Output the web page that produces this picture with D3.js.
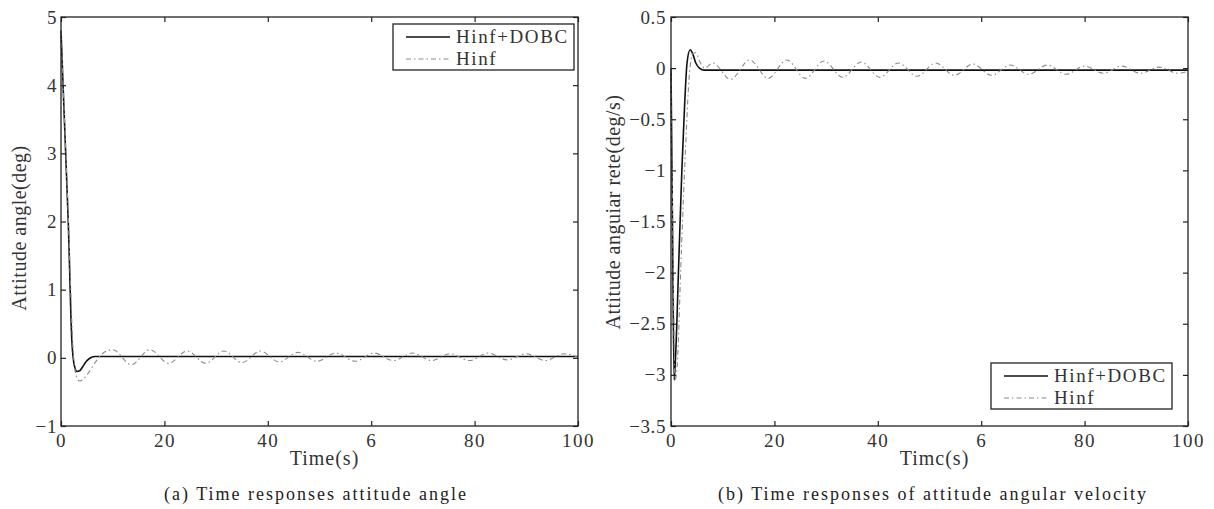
<!DOCTYPE html>
<html>
<head>
<meta charset="utf-8">
<script src="https://cdn.jsdelivr.net/npm/d3@7"></script>
<style>
  body { margin: 0; background: #fff; }
  svg { display: block; font-family: 'Liberation Serif', 'Times New Roman', serif; }
</style>
</head>
<body>
<div id="svg-container"></div>
<script>
// tijd-as (gedeeld door beide panelen), labels zoals in de figuur (met "6")
const timeTicks = [0, 20, 40, 60, 80, 100]
const timeTickLabels = ['0', '20', '40', '6', '80', '100']

// paneel (a): attitude angle
const angleTicks = [5, 4, 3, 2, 1, 0, -1]
const angleTickLabels = ['5', '4', '3', '2', '1', '0', '\u22121']
const angleDobcT = [0, 0.7, 1.4, 2.1, 2.6, 3.1, 3.6, 4.2, 4.8, 5.5, 6.5, 8, 100]
const angleDobcV = [4.8, 3.4, 2.0, 0.25, -0.12, -0.2, -0.19, -0.13, -0.06, -0.01, 0.02, 0.02, 0.02]
const angleHinfT = [0, 1.4, 2.4, 3.1, 3.6, 4.5, 5.5, 6.5, 8, 10, 13.6, 17.2, 20.8, 24.4, 28, 31.5, 35, 38.6, 42.2, 45.8, 49.5, 53.2, 56.9, 60.6, 64.3, 68, 71.7, 75.3, 79, 82.6, 86.3, 90, 93.7, 97.3, 100]
const angleHinfV = [4.8, 2.1, 0.05, -0.3, -0.34, -0.3, -0.2, -0.08, 0.06, 0.12, -0.1, 0.12, -0.08, 0.1, -0.08, 0.1, -0.07, 0.1, -0.06, 0.08, -0.05, 0.07, -0.05, 0.07, -0.04, 0.07, -0.04, 0.06, -0.04, 0.07, -0.03, 0.06, -0.04, 0.06, 0.01]

// paneel (b): attitude angular velocity
const rateTicks = [0.5, 0, -0.5, -1, -1.5, -2, -2.5, -3, -3.5]
const rateTickLabels = ['0.5', '0', '\u22120.5', '\u22121', '\u22121.5', '\u22122', '\u22122.5', '\u22123', '\u22123.5']
const rateDobcT = [0, 0.3, 0.6, 0.9, 1.5, 2.1, 2.6, 3.1, 3.7, 4.2, 4.8, 5.5, 6.5, 8, 100]
const rateDobcV = [0, -1.6, -3.05, -2.8, -1.9, -1.0, -0.4, 0.05, 0.18, 0.14, 0.05, 0.0, -0.02, -0.02, -0.02]
const rateHinfT = [0, 0.4, 0.8, 1.2, 2.0, 2.8, 3.5, 4.2, 4.8, 5.6, 6.5, 8.1, 11.5, 15.2, 18.8, 22.4, 26, 29.6, 33.2, 36.8, 40.4, 44, 47.6, 51.2, 54.8, 58.4, 62, 65.6, 69.2, 72.8, 76.4, 80, 83.6, 87.2, 90.8, 94.4, 98, 100]
const rateHinfV = [0, -1.8, -3.05, -2.9, -1.8, -0.8, -0.1, 0.14, 0.15, 0.06, 0.0, 0.05, -0.11, 0.08, -0.1, 0.08, -0.1, 0.07, -0.09, 0.06, -0.09, 0.05, -0.08, 0.05, -0.07, 0.04, -0.07, 0.03, -0.06, 0.03, -0.06, 0.02, -0.05, 0.02, -0.05, 0.01, -0.05, -0.03]

const seriesNames = ['Hinf+DOBC', 'Hinf']

const width = 1214
const height = 509
const plotTop = 17
const plotBottom = 426

const svg = d3.select('#svg-container')
    .append('svg').attr('width', width).attr('height', height)

svg.append('rect').attr('width', width).attr('height', height).attr('fill', '#fff')

//stijlen voor de twee lijnen
const styles = [
    { stroke: '#111', width: 1.6, dash: null },
    { stroke: '#8a8a8a', width: 1.1, dash: '5,3,1.5,3' }
]

function zip(ts, vs) {
    return ts.map((t, i) => ({ t: t, v: vs[i] }))
}

function drawPanel(p) {
    const xScale = d3.scaleLinear().domain([0, 100]).range([p.left, p.right])
    const yScale = d3.scaleLinear().domain(p.yDomain).range([plotBottom, plotTop])

    const g = svg.append('g')

    //lijnen
    const line = d3.line()
        .x(d => xScale(d.t))
        .y(d => yScale(d.v))
        .curve(d3.curveMonotoneX)

    p.series.forEach((s, i) => {
        g.append('path')
            .attr('d', line(s))
            .attr('fill', 'none')
            .attr('stroke', styles[i].stroke)
            .attr('stroke-width', styles[i].width)
            .attr('stroke-dasharray', styles[i].dash)
    })

    //assen met ticks naar binnen
    const fmtX = d => timeTickLabels[timeTicks.indexOf(d)]
    const fmtY = d => p.yLabels[p.yTicks.indexOf(d)]

    const xAxisG = g.append('g')
        .attr('transform', `translate(0, ${plotBottom})`)
        .call(d3.axisBottom(xScale).tickValues(timeTicks).tickFormat(fmtX).tickSize(-5).tickSizeOuter(0).tickPadding(10))
    g.append('g')
        .attr('transform', `translate(0, ${plotTop})`)
        .call(d3.axisTop(xScale).tickValues(timeTicks).tickFormat('').tickSize(-5).tickSizeOuter(0))
    const yAxisG = g.append('g')
        .attr('transform', `translate(${p.left}, 0)`)
        .call(d3.axisLeft(yScale).tickValues(p.yTicks).tickFormat(fmtY).tickSize(-5).tickSizeOuter(0).tickPadding(p.yPad))
    g.append('g')
        .attr('transform', `translate(${p.right}, 0)`)
        .call(d3.axisRight(yScale).tickValues(p.yTicks).tickFormat('').tickSize(-5).tickSizeOuter(0))

    g.selectAll('.domain').remove()
    g.selectAll('.tick line').attr('stroke', '#222').attr('stroke-width', 1.2)
    g.selectAll('.tick text').attr('fill', '#333').style('font-size', '19px').style('font-family', "'Liberation Serif', serif")
    xAxisG.selectAll('.tick text').attr('dy', '0.6em').style('letter-spacing', '1.5px')
    yAxisG.selectAll('.tick text').style('letter-spacing', '0.6px')

    //kader
    g.append('rect')
        .attr('x', p.left).attr('y', plotTop)
        .attr('width', p.right - p.left).attr('height', plotBottom - plotTop)
        .attr('fill', 'none').attr('stroke', '#222').attr('stroke-width', 1.3)

    //aslabels
    g.append('text')
        .attr('x', (p.left + p.right) / 2 + 5)
        .attr('y', 465)
        .attr('text-anchor', 'middle')
        .attr('fill', '#333')
        .style('font-size', '20px')
        .style('letter-spacing', '1px')
        .text(p.xTitle)

    g.append('text')
        .attr('transform', `translate(${p.yTitleX}, ${p.yTitleY}) rotate(-90)`)
        .attr('text-anchor', 'middle')
        .attr('fill', '#333')
        .style('font-size', '20px')
        .style('letter-spacing', '0.5px')
        .text(p.yTitle)

    //onderschrift
    g.append('text')
        .attr('x', p.captionX)
        .attr('y', 500)
        .attr('text-anchor', 'middle')
        .attr('fill', '#222')
        .style('font-size', '18px')
        .style('letter-spacing', '2px')
        .text(p.caption)

    //legenda
    const lg = g.append('g').attr('transform', `translate(${p.legX}, ${p.legY})`)
    lg.append('rect')
        .attr('width', 181).attr('height', 46)
        .attr('fill', '#fff').attr('stroke', '#222').attr('stroke-width', 1.3)
    seriesNames.forEach((name, i) => {
        const base = 19 + i * 22
        lg.append('line')
            .attr('x1', 13).attr('x2', 57).attr('y1', base - 6).attr('y2', base - 6)
            .attr('stroke', styles[i].stroke)
            .attr('stroke-width', styles[i].width)
            .attr('stroke-dasharray', styles[i].dash)
        lg.append('text')
            .attr('x', 63).attr('y', base)
            .attr('fill', '#333')
            .style('font-size', '19px')
            .style('letter-spacing', '1.6px')
            .text(name)
    })
}

drawPanel({
    left: 61, right: 578,
    yDomain: [-1, 5], yTicks: angleTicks, yLabels: angleTickLabels, yPad: 4,
    series: [zip(angleDobcT, angleDobcV), zip(angleHinfT, angleHinfV)],
    xTitle: 'Time(s)',
    yTitle: 'Attitude angle(deg)', yTitleX: 26, yTitleY: 228,
    caption: '(a) Time responses attitude angle', captionX: 316,
    legX: 393, legY: 24
})

drawPanel({
    left: 671, right: 1188,
    yDomain: [-3.5, 0.5], yTicks: rateTicks, yLabels: rateTickLabels, yPad: 5,
    series: [zip(rateDobcT, rateDobcV), zip(rateHinfT, rateHinfV)],
    xTitle: 'Timc(s)',
    yTitle: 'Attitude anguiar rete(deg/s)', yTitleX: 620, yTitleY: 212,
    caption: '(b) Time responses of attitude angular velocity', captionX: 933,
    legX: 991, legY: 363
})
</script>
</body>
</html>
